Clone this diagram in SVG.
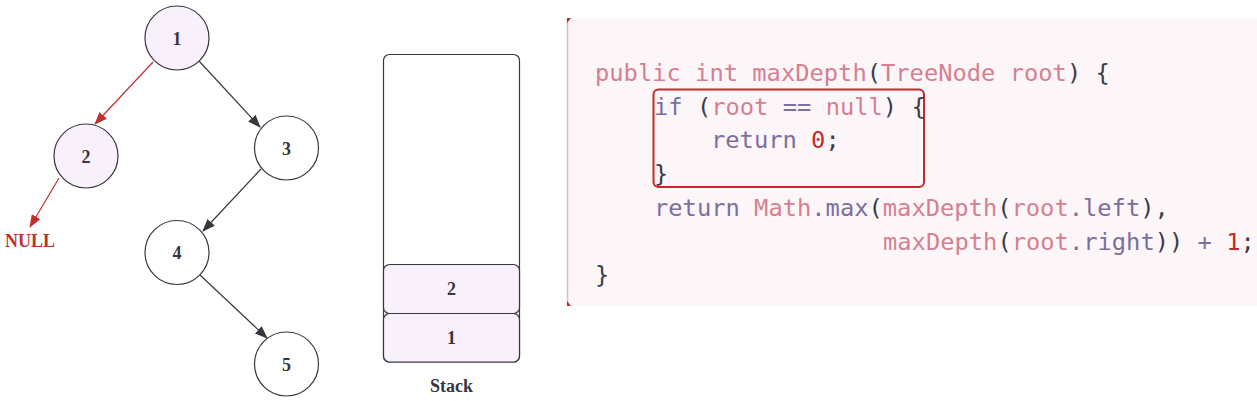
<svg xmlns="http://www.w3.org/2000/svg" width="1257" height="401" viewBox="0 0 1257 401">
<defs>
<style>
.node circle{stroke:#3a3540;stroke-width:1.2}
.hl{fill:#f8f0fb}
.wh{fill:#ffffff}
.lbl{font-family:"Liberation Serif",serif;font-weight:bold;font-size:18px;fill:#3a3540;text-anchor:middle}
.edge{fill:none;stroke-width:1.2}
.dk{stroke:#3a3540}
.rd{stroke:#c03030}
.code{font-family:"DejaVu Sans Mono",monospace;font-size:23.75px;white-space:pre}
.p{fill:#d5808f}
.u{fill:#7a6f9f}
.d{fill:#3a3d48}
.r{fill:#c62828}
</style>
<marker id="ad" markerWidth="13" markerHeight="10" refX="12" refY="5" orient="auto" markerUnits="userSpaceOnUse"><path d="M0,0 L13,5 L0,10 Z" fill="#3a3540"/></marker>
<marker id="ar" markerWidth="13" markerHeight="10" refX="12" refY="5" orient="auto" markerUnits="userSpaceOnUse"><path d="M0,0 L13,5 L0,10 Z" fill="#c03030"/></marker>
</defs>
<rect width="1257" height="401" fill="#ffffff"/>

<g id="connectors">
<line class="edge rd" x1="153" y1="62" x2="95" y2="124" marker-end="url(#ar)"/>
<line class="edge dk" x1="199" y1="61" x2="260" y2="127" marker-end="url(#ad)"/>
<line class="edge rd" x1="59" y1="178" x2="30" y2="227" marker-end="url(#ar)"/>
<line class="edge dk" x1="261" y1="169" x2="203" y2="231" marker-end="url(#ad)"/>
<line class="edge dk" x1="200" y1="275" x2="267" y2="338" marker-end="url(#ad)"/>
</g>

<g id="node1" class="node"><circle class="hl" cx="177" cy="38" r="32"/><text class="lbl" x="177" y="44.5">1</text></g>
<g id="node2" class="node"><circle class="hl" cx="86" cy="156" r="32"/><text class="lbl" x="86" y="162.5">2</text></g>
<g id="node3" class="node"><circle class="wh" cx="286.5" cy="148" r="32"/><text class="lbl" x="286.5" y="154.5">3</text></g>
<g id="node4" class="node"><circle class="wh" cx="177" cy="252.5" r="32"/><text class="lbl" x="177" y="259">4</text></g>
<g id="node5" class="node"><circle class="wh" cx="286.5" cy="364" r="32"/><text class="lbl" x="286.5" y="370.5">5</text></g>
<g id="null"><text class="lbl" x="30" y="246.5" style="fill:#c03030">NULL</text></g>

<g id="stack">
<rect x="383.5" y="54.5" width="136" height="307.5" rx="6" fill="#ffffff" stroke="#3a3540" stroke-width="1.2"/>
<rect x="383.5" y="264.5" width="136" height="49" rx="6" fill="#f8f0fb" stroke="#3a3540" stroke-width="1.2"/>
<rect x="383.5" y="313.5" width="136" height="48.5" rx="6" fill="#f8f0fb" stroke="#3a3540" stroke-width="1.2"/>
<text class="lbl" x="451.5" y="295">2</text>
<text class="lbl" x="451.5" y="344">1</text>
<text class="lbl" x="451.5" y="392">Stack</text>
</g>

<g id="code">
<rect x="567" y="18" width="690" height="288" fill="#fdf6f9"/>
<line x1="567.5" y1="18" x2="567.5" y2="306" stroke="#d9bcc6" stroke-width="1.5"/>
<path d="M567,18 L571,18 L567,23 Z" fill="#c62828"/>
<path d="M567,306 L571,306 L567,301 Z" fill="#c62828"/>
<rect x="653.5" y="89.5" width="270.5" height="97.5" rx="5" fill="none" stroke="#c62828" stroke-width="2"/>
<text class="code" x="595" y="81"><tspan class="p">public int maxDepth</tspan><tspan class="d">(</tspan><tspan class="p">TreeNode root</tspan><tspan class="d">) {</tspan></text>
<text class="code" x="654" y="114.7"><tspan class="u">if</tspan><tspan class="d"> (</tspan><tspan class="p">root</tspan><tspan class="u"> == </tspan><tspan class="p">null</tspan><tspan class="d">) {</tspan></text>
<text class="code" x="711" y="148.4"><tspan class="u">return</tspan><tspan class="r"> 0</tspan><tspan class="d">;</tspan></text>
<text class="code d" x="654" y="182.1">}</text>
<text class="code" x="654" y="215.8"><tspan class="u">return</tspan><tspan class="p"> Math</tspan><tspan class="u">.max</tspan><tspan class="d">(</tspan><tspan class="p">maxDepth</tspan><tspan class="d">(</tspan><tspan class="p">root</tspan><tspan class="u">.left</tspan><tspan class="d">),</tspan></text>
<text class="code" x="883" y="249.5"><tspan class="p">maxDepth</tspan><tspan class="d">(</tspan><tspan class="p">root</tspan><tspan class="u">.right</tspan><tspan class="d">))</tspan><tspan class="u"> + </tspan><tspan class="r">1</tspan><tspan class="d">;</tspan></text>
<text class="code d" x="595" y="283.2">}</text>
</g>
</svg>
